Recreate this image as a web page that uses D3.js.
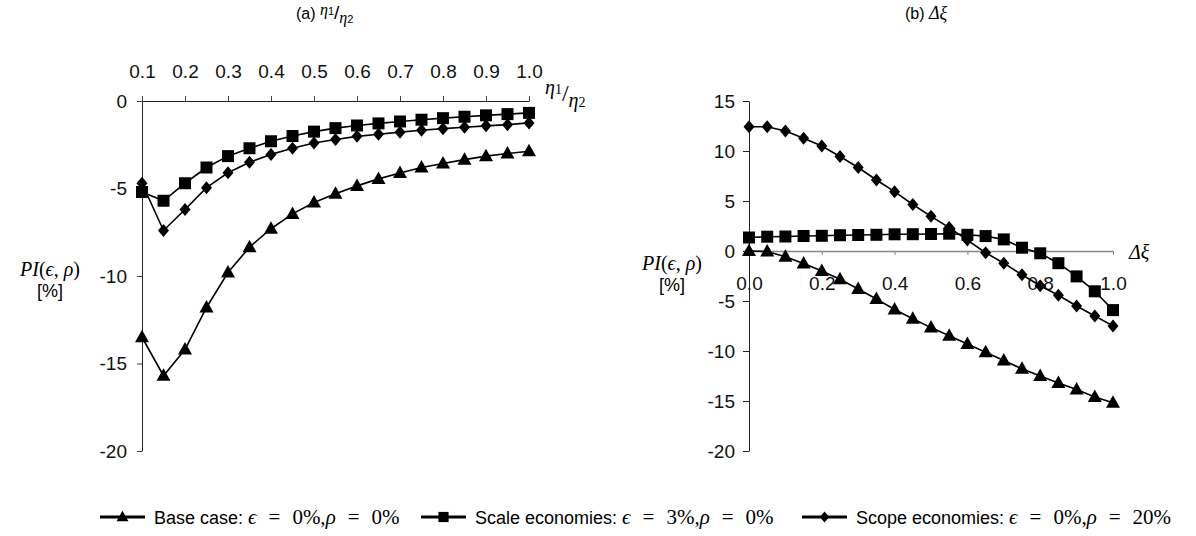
<!DOCTYPE html>
<meta charset="utf-8">
<script src="https://d3js.org/d3.v7.min.js"></script>
<style>
    body { margin: 0; background: #fff; font-family: "Liberation Sans", Arial, sans-serif; }
    .tick text { font-family: "Liberation Sans", Arial, sans-serif; font-size: 19px; fill: #111; }
    .math { font-family: "Liberation Serif", "DejaVu Serif", serif; font-style: italic; font-weight: normal; }
    .up { font-style: normal; }
</style>
<div id="viz_area"></div>
<script>
    // panel (a): eta1/eta2
    var etaX = [0.1, 0.15, 0.2, 0.25, 0.3, 0.35, 0.4, 0.45, 0.5, 0.55, 0.6, 0.65, 0.7, 0.75, 0.8, 0.85, 0.9, 0.95, 1.0]
    var etaBase = [-13.5, -15.7, -14.2, -11.8, -9.8, -8.35, -7.3, -6.45, -5.8, -5.3, -4.85, -4.45, -4.12, -3.8, -3.57, -3.35, -3.15, -3.0, -2.87]
    var etaScale = [-5.2, -5.7, -4.7, -3.8, -3.15, -2.7, -2.3, -2.0, -1.75, -1.55, -1.4, -1.28, -1.17, -1.07, -0.98, -0.9, -0.82, -0.75, -0.68]
    var etaScope = [-4.7, -7.4, -6.2, -4.95, -4.1, -3.5, -3.05, -2.7, -2.4, -2.2, -2.02, -1.9, -1.78, -1.67, -1.58, -1.5, -1.42, -1.35, -1.25]

    // panel (b): delta xi
    var xiX = [0, 0.05, 0.1, 0.15, 0.2, 0.25, 0.3, 0.35, 0.4, 0.45, 0.5, 0.55, 0.6, 0.65, 0.7, 0.75, 0.8, 0.85, 0.9, 0.95, 1.0]
    var xiBase = [0, -0.05, -0.57, -1.25, -2.0, -2.82, -3.8, -4.8, -5.85, -6.77, -7.66, -8.48, -9.3, -10.13, -10.96, -11.78, -12.5, -13.2, -13.86, -14.59, -15.18]
    var xiScale = [1.35, 1.43, 1.45, 1.5, 1.52, 1.58, 1.6, 1.62, 1.67, 1.68, 1.7, 1.73, 1.62, 1.49, 1.16, 0.33, -0.23, -1.22, -2.54, -4.03, -5.91]
    var xiScope = [12.43, 12.43, 12.0, 11.27, 10.5, 9.45, 8.35, 7.1, 5.93, 4.65, 3.47, 2.34, 1.09, -0.17, -1.22, -2.38, -3.47, -4.42, -5.5, -6.5, -7.49]

    var etaTicks = [0.1, 0.2, 0.3, 0.4, 0.5, 0.6, 0.7, 0.8, 0.9, 1.0]
    var etaYTicks = [0, -5, -10, -15, -20]
    var xiTicks = [0, 0.2, 0.4, 0.6, 0.8, 1.0]
    var xiYTicks = [15, 10, 5, 0, -5, -10, -15, -20]

    var W = 1196, H = 536

    var svg = d3.select("#viz_area").append("svg")
        .attr("width", W)
        .attr("height", H)

    // plain hyphen for negatives, like the original
    var intFmt = function(d) { return String(d) }

    function marker(type) {
        if (type == "triangle") return "M0,-7.5L7,5L-7,5Z"
        if (type == "square") return "M-6,-6H6V6H-6Z"
        return "M0,-6.5L5.5,0L0,6.5L-5.5,0Z"
    }

    function drawSeries(g, x, y, xs, ys, type) {
        var pts = xs.map(function(d, i) { return [d, ys[i]] })
        g.append("path")
            .datum(pts)
            .attr("fill", "none")
            .attr("stroke", "#000")
            .attr("stroke-width", 1.6)
            .attr("d", d3.line()
                .x(function(d) { return x(d[0]) })
                .y(function(d) { return y(d[1]) }))
        g.selectAll(".m-" + type)
            .data(pts)
            .enter().append("path")
            .attr("class", "m-" + type)
            .attr("d", marker(type))
            .attr("fill", "#000")
            .attr("transform", function(d) {
                return "translate(" + x(d[0]) + "," + y(d[1]) + ")"
            })
    }

    function yLabel(cx, cy) {
        var t = svg.append("text")
            .attr("x", cx).attr("y", cy)
            .attr("text-anchor", "middle")
            .attr("class", "math")
            .attr("font-size", "20px")
        t.append("tspan").text("PI")
        t.append("tspan").attr("class", "up").text("(")
        t.append("tspan").text("ϵ")
        t.append("tspan").attr("class", "up").text(", ")
        t.append("tspan").text("ρ")
        t.append("tspan").attr("class", "up").text(")")
        svg.append("text")
            .attr("x", cx).attr("y", cy + 21)
            .attr("text-anchor", "middle")
            .attr("font-size", "18px")
            .text("[%]")
    }

    // ---------- panel (a)
    var xa = d3.scaleLinear().domain([0.1, 1.0]).range([142, 529])
    var ya = d3.scaleLinear().domain([-20, 0]).range([451, 101])

    var ga = svg.append("g")

    ga.append("g")
        .attr("transform", "translate(0," + ya(0) + ")")
        .call(d3.axisTop(xa).tickValues(etaTicks).tickSize(5).tickSizeOuter(0).tickPadding(18).tickFormat(d3.format(".1f")))
        .call(function(a) {
            a.select(".domain").attr("stroke", "#222")
            a.selectAll(".tick line").attr("stroke", "#444")
        })

    ga.append("g")
        .attr("transform", "translate(" + xa(0.1) + ",0)")
        .call(d3.axisLeft(ya).tickValues(etaYTicks).tickSize(5).tickSizeOuter(0).tickPadding(10).tickFormat(intFmt))
        .call(function(a) {
            a.select(".domain").attr("stroke", "#222")
            a.selectAll(".tick line").attr("stroke", "#444")
        })

    drawSeries(ga, xa, ya, etaX, etaBase, "triangle")
    drawSeries(ga, xa, ya, etaX, etaScale, "square")
    drawSeries(ga, xa, ya, etaX, etaScope, "diamond")

    // axis title eta1/eta2
    var ea = ga.append("text").attr("x", 545).attr("y", 94).attr("class", "math").attr("font-size", "20px")
    ea.append("tspan").text("η")
    ea.append("tspan").attr("class", "up").attr("font-size", "14px").text("1")
    ea.append("tspan").attr("class", "up").attr("dy", 7).attr("font-size", "24px").text("/")
    ea.append("tspan").attr("dy", 6).text("η")
    ea.append("tspan").attr("class", "up").attr("font-size", "14px").text("2")

    yLabel(50, 276)

    var ta = svg.append("text").attr("x", 296).attr("y", 19).attr("font-size", "16px")
    ta.append("tspan").text("(a) ")
    ta.append("tspan").attr("class", "math").attr("dy", -4).text("η")
    ta.append("tspan").attr("font-size", "11px").text("1")
    ta.append("tspan").attr("dy", 4).attr("font-size", "19px").text("/")
    ta.append("tspan").attr("class", "math").attr("dy", 4).text("η")
    ta.append("tspan").attr("font-size", "11px").text("2")

    // ---------- panel (b)
    var xb = d3.scaleLinear().domain([0, 1]).range([749, 1113])
    var yb = d3.scaleLinear().domain([-20, 15]).range([451, 101])

    var gb = svg.append("g")

    gb.append("g")
        .attr("transform", "translate(0," + yb(0) + ")")
        .call(d3.axisBottom(xb).tickValues(xiTicks).tickSize(4).tickSizeOuter(0).tickPadding(22).tickFormat(d3.format(".1f")))
        .call(function(a) {
            a.select(".domain").attr("stroke", "#888").attr("stroke-width", 1.5)
            a.selectAll(".tick line").attr("stroke", "#888")
        })

    gb.append("g")
        .attr("transform", "translate(" + xb(0) + ",0)")
        .call(d3.axisLeft(yb).tickValues(xiYTicks).tickSize(6).tickSizeOuter(0).tickPadding(8).tickFormat(intFmt))
        .call(function(a) {
            a.select(".domain").attr("stroke", "#222")
            a.selectAll(".tick line").attr("stroke", "#222")
        })

    drawSeries(gb, xb, yb, xiX, xiBase, "triangle")
    drawSeries(gb, xb, yb, xiX, xiScale, "square")
    drawSeries(gb, xb, yb, xiX, xiScope, "diamond")

    svg.append("text").attr("class", "math").attr("x", 1129).attr("y", 259).attr("font-size", "20px")
        .text("Δξ")
    yLabel(672, 270)

    var tb = svg.append("text").attr("x", 905).attr("y", 19).attr("font-size", "16px")
    tb.append("tspan").text("(b) ")
    tb.append("tspan").attr("class", "math").attr("font-size", "18px").text("Δξ")

    // ---------- legend
    var legendItems = [
        { type: "triangle", x: 100, label: "Base case: ", eps: "0%", rho: "0%" },
        { type: "square", x: 421, label: "Scale economies: ", eps: "3%", rho: "0%" },
        { type: "diamond", x: 802, label: "Scope economies: ", eps: "0%", rho: "20%" }
    ]
    var leg = svg.selectAll(".legend")
        .data(legendItems)
        .enter().append("g")
        .attr("class", "legend")
        .attr("transform", function(d) { return "translate(" + d.x + ",517)" })

    leg.append("line")
        .attr("x1", 0).attr("x2", 45)
        .attr("stroke", "#000").attr("stroke-width", 3)
    leg.append("path")
        .attr("d", function(d) { return marker(d.type) })
        .attr("transform", "translate(22.5,0) scale(0.85)")
        .attr("fill", "#000")

    var lt = leg.append("text")
        .attr("x", 54).attr("y", 7)
        .attr("font-size", "18px")
    lt.append("tspan").text(function(d) { return d.label })
    lt.append("tspan").attr("class", "math").attr("font-size", "21px").text("ϵ")
    lt.append("tspan").attr("class", "math up").attr("font-size", "21px").attr("dx", 12).text("=")
    lt.append("tspan").attr("class", "math up").attr("font-size", "21px").attr("dx", 12).text(function(d) { return d.eps + "," })
    lt.append("tspan").attr("class", "math").attr("font-size", "21px").text("ρ")
    lt.append("tspan").attr("class", "math up").attr("font-size", "21px").attr("dx", 12).text("=")
    lt.append("tspan").attr("class", "math up").attr("font-size", "21px").attr("dx", 12).text(function(d) { return d.rho })
</script>
